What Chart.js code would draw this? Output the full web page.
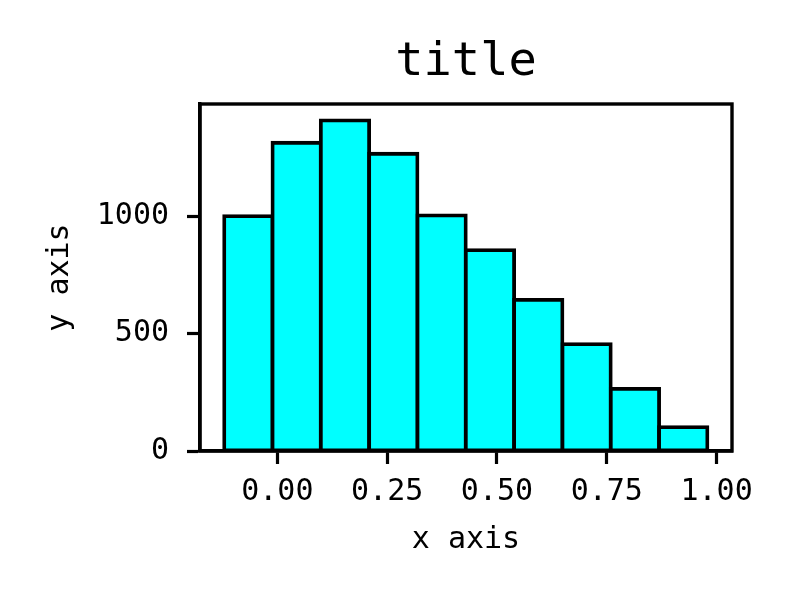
<!DOCTYPE html>
<html>
<head>
<meta charset="utf-8">
<script src="https://cdn.jsdelivr.net/npm/chart.js@4/dist/chart.umd.min.js"></script>
<style>
  html, body { margin: 0; padding: 0; background: #ffffff; }
  #wrap { width: 799px; height: 600px; position: relative; }
</style>
</head>
<body>
<div id="wrap"><canvas id="c" width="799" height="600"></canvas></div>
<script>
// ---- data ----
const binCenters = [-0.066, 0.044, 0.154, 0.264, 0.374, 0.484, 0.594, 0.704, 0.814, 0.924];
const counts     = [1000, 1313, 1408, 1266, 1004, 856, 644, 455, 265, 102];
const xTickValues = [0.00, 0.25, 0.50, 0.75, 1.00];
const yTickValues = [0, 500, 1000];
const titleText = 'title';
const xLabel = 'x axis';
const yLabel = 'y axis';

const FONT = "'DejaVu Sans Mono', 'Liberation Mono', monospace";

const frame = {
  id: 'frame',
  afterDraw(chart) {
    const {ctx, chartArea: a} = chart;
    ctx.save();
    ctx.strokeStyle = '#000';
    ctx.lineWidth = 3.4;
    ctx.strokeRect(a.left, a.top, a.right - a.left, a.bottom - a.top);
    ctx.restore();
  }
};

new Chart(document.getElementById('c'), {
  type: 'bar',
  data: {
    datasets: [{
      data: binCenters.map((x, i) => ({x: x, y: counts[i]})),
      backgroundColor: '#00ffff',
      borderColor: '#000000',
      borderWidth: 3.8,
      borderSkipped: false,
      inflateAmount: 1.9,
      barPercentage: 1.0,
      categoryPercentage: 1.0
    }]
  },
  options: {
    responsive: false,
    animation: false,
    layout: { padding: { left: 0, right: 67, top: 0, bottom: 0 } },
    plugins: {
      legend: { display: false },
      tooltip: { enabled: false },
      title: {
        display: true,
        fullSize: false,
        text: titleText,
        color: '#000',
        font: { family: FONT, size: 47, weight: 'normal', lineHeight: 1.2 },
        padding: { top: 35, bottom: 12.6 }
      }
    },
    scales: {
      x: {
        type: 'linear',
        offset: false,
        min: -0.176,
        max: 1.035,
        afterFit(s) { s.height = 149; },
        afterBuildTicks(s) { s.ticks = xTickValues.map(v => ({value: v})); },
        ticks: {
          color: '#000',
          font: { family: FONT, size: 30 },
          padding: 10,
          maxRotation: 0,
          autoSkip: false,
          callback: v => Number(v).toFixed(2)
        },
        grid: { display: true, offset: false, drawOnChartArea: false, tickLength: 13, tickWidth: 3.2, tickColor: '#000' },
        border: { display: true, color: '#000', width: 3.4 },
        title: {
          display: true,
          text: xLabel,
          color: '#000',
          font: { family: FONT, size: 30, lineHeight: 1.2 },
          padding: { top: 0, bottom: 42 }
        }
      },
      y: {
        type: 'linear',
        min: 0,
        max: 1478,
        afterFit(s) { s.width = 200; },
        afterBuildTicks(s) { s.ticks = yTickValues.map(v => ({value: v})); },
        ticks: {
          color: '#000',
          font: { family: FONT, size: 30 },
          padding: 18,
          autoSkip: false,
          callback: v => String(v)
        },
        grid: { display: true, drawOnChartArea: false, tickLength: 13, tickWidth: 3.2, tickColor: '#000' },
        border: { display: true, color: '#000', width: 3.4 },
        title: {
          display: true,
          text: yLabel,
          color: '#000',
          font: { family: FONT, size: 30, lineHeight: 1.2 },
          padding: { top: 42, bottom: 0 }
        }
      }
    }
  },
  plugins: [frame]
});
</script>
</body>
</html>
